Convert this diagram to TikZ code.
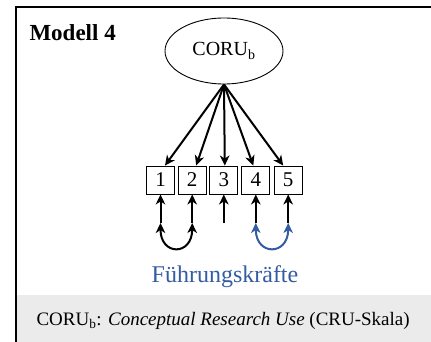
\documentclass[tikz,border=0pt]{standalone}
\usepackage{fontspec}
\setmainfont{Liberation Serif}
\usetikzlibrary{arrows.meta,shapes.geometric,calc}
\definecolor{leaderblue}{RGB}{52,92,162}
\definecolor{panelgray}{RGB}{235,235,235}
\tikzset{
  fs/.style={font=\fontsize{#1}{#1}\selectfont},
  item/.style={draw, line width=0.9pt, minimum width=28pt, minimum height=28pt,
    inner sep=0pt, fs=21},
  latent/.style={draw, ellipse, line width=0.9pt, minimum width=118pt,
    minimum height=66pt, inner sep=0pt, fs=20},
  tip/.style={Stealth[length=10pt,width=9.5pt,inset=3pt]},
  path/.style={line width=2pt, -{Stealth[length=10pt,width=9.5pt,inset=3pt]}},
  corr/.style={line width=2pt, {Stealth[length=10pt,width=9.5pt,inset=3pt]}-{Stealth[length=10pt,width=9.5pt,inset=3pt]}},
}
\begin{document}
\begin{tikzpicture}[x=1pt,y=-1pt]
\useasboundingbox (0,0) rectangle (431,342);
% legend strip and frame
\fill[panelgray] (16,295) rectangle (431,342);
\draw[line width=2.5pt] (16,342) -- (16,7) -- (431,7);

\node[anchor=base west, font=\bfseries\fontsize{23}{23}\selectfont] (title) at (26,41) {Modell 4};

\node[latent] (coru) at (224,51) {CORU\textsubscript{b}};

\node[item] (b1) at (160.5,180) {1};
\node[item] (b2) at (192.2,180) {2};
\node[item] (b3) at (223.8,180) {3};
\node[item] (b4) at (255.8,180) {4};
\node[item] (b5) at (288.2,180) {5};

% loadings
\draw[path] (coru.south) -- ($(b1.north)+(4.5,0)$);
\draw[path] (coru.south) -- ($(b2.north)+(4,0)$);
\draw[path] (coru.south) -- ($(b3.north)+(1,0)$);
\draw[path] (coru.south) -- ($(b4.north)+(-2.5,0)$);
\draw[path] (coru.south) -- ($(b5.north)+(-5,0)$);

% residuals
\foreach \i/\x in {1/160.5,2/192.2,3/223.8,4/255.8,5/288.2}{
  \coordinate (e\i) at (\x,223);
  \draw[path] (e\i) -- (b\i.south);
}

% residual covariances
\draw[corr] (e1) .. controls +(0,33) and +(0,33) .. (e2);
\draw[corr, leaderblue] (e4) .. controls +(0,33) and +(0,33) .. (e5);

\node[anchor=base, text=leaderblue, fs=24] (grp) at (225,282) {Führungskräfte};

\node[anchor=base west, fs=19] (legend) at (33,325)
  {CORU\textsubscript{b}: \textit{Conceptual Research Use} (CRU-Skala)};
\end{tikzpicture}
\end{document}
